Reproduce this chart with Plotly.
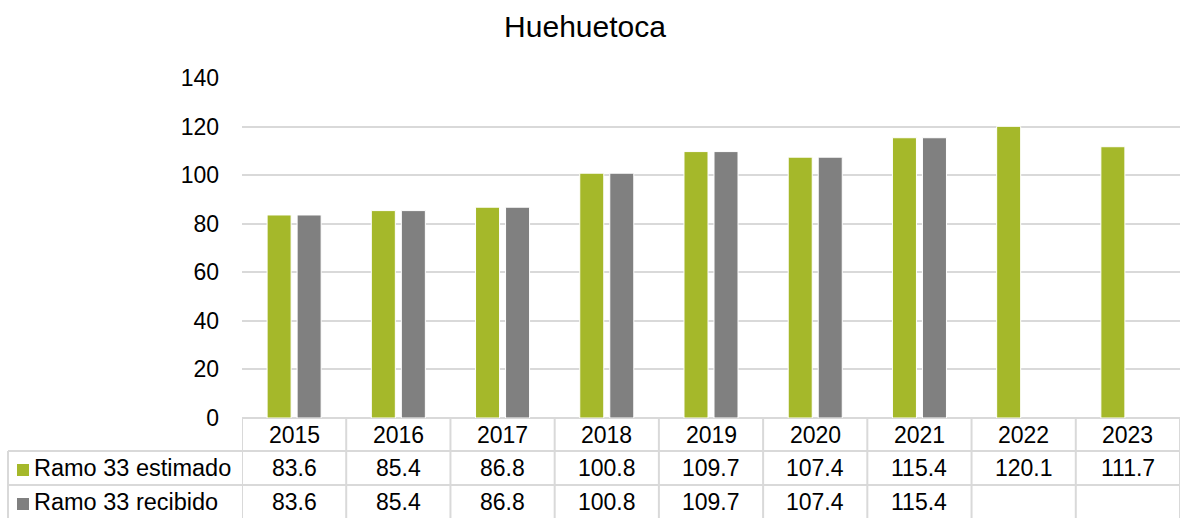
import plotly.graph_objects as go

years = ["2015", "2016", "2017", "2018", "2019", "2020", "2021", "2022", "2023"]
estimado = [83.6, 85.4, 86.8, 100.8, 109.7, 107.4, 115.4, 120.1, 111.7]
recibido = [83.6, 85.4, 86.8, 100.8, 109.7, 107.4, 115.4, None, None]
series_names = ["Ramo 33 estimado", "Ramo 33 recibido"]
colors = ["#A5B82A", "#808080"]
title = "Huehuetoca"

W, H = 1180, 518
L, R, T, B = 242, 0, 78, 100
PW, PH = W - L - R, H - T - B
FONT = "Liberation Sans, Arial, sans-serif"
GRID = "#D9D9D9"


def px_x(px):
    return (px - L) / PW


def px_y(py):
    return (H - B - py) / PH


fig = go.Figure()
for name, vals, col in zip(series_names, [estimado, recibido], colors):
    fig.add_trace(go.Bar(
        x=years, y=vals, name=name,
        marker=dict(color=col, line=dict(color="white", width=1)),
        showlegend=False, hoverinfo="x+y",
    ))

shapes = []
annotations = []
line = dict(color=GRID, width=2)
shapes.append(dict(type="line", xref="paper", yref="paper", x0=0, x1=1,
                   y0=0, y1=0, line=line, layer="below"))
for py in [451, 485]:
    shapes.append(dict(type="line", xref="paper", yref="paper", x0=px_x(8), x1=1,
                       y0=px_y(py), y1=px_y(py), line=line))
for k in range(len(years) + 1):
    shapes.append(dict(type="line", xref="x", yref="paper", x0=k - 0.5, x1=k - 0.5,
                       y0=0, y1=px_y(H), line=line))
shapes.append(dict(type="line", xref="paper", yref="paper", x0=px_x(8), x1=px_x(8),
                   y0=px_y(451), y1=px_y(H), line=line))

row_centers = [435, 468, 502]
txtfont = dict(family=FONT, size=23, color="#000000")
lblfont = dict(family=FONT, size=23.5, color="#000000")
for i, yr in enumerate(years):
    annotations.append(dict(x=i, xref="x", y=px_y(row_centers[0]), yref="paper",
                            text=yr, showarrow=False, font=txtfont,
                            xanchor="center", yanchor="middle"))
    for r, vals in enumerate([estimado, recibido]):
        v = vals[i]
        if v is not None:
            annotations.append(dict(x=i, xref="x", y=px_y(row_centers[r + 1]), yref="paper",
                                    text=f"{v:.1f}", showarrow=False, font=txtfont,
                                    xanchor="center", yanchor="middle"))

for r, (name, col) in enumerate(zip(series_names, colors)):
    yc = row_centers[r + 1]
    shapes.append(dict(type="rect", xref="paper", yref="paper",
                       x0=px_x(17), x1=px_x(29), y0=px_y(yc + 8), y1=px_y(yc - 4),
                       fillcolor=col, line=dict(width=0)))
    annotations.append(dict(x=px_x(32), xref="paper", y=px_y(yc), yref="paper",
                            text=name, showarrow=False, font=lblfont,
                            xanchor="left", yanchor="middle"))

fig.update_layout(
    width=W, height=H,
    margin=dict(l=L, r=R, t=T, b=B, pad=0),
    paper_bgcolor="white", plot_bgcolor="white",
    title=dict(text=title, x=585 / W, xanchor="center", y=1 - 26 / H, yanchor="middle",
               font=dict(family=FONT, size=30, color="#000000")),
    barmode="group", bargap=0.424, bargroupgap=0.2,
    xaxis=dict(type="category", showticklabels=False, showgrid=False, zeroline=False,
               showline=False, ticks="", range=[-0.5, len(years) - 0.5]),
    yaxis=dict(range=[0, 140], dtick=20, showgrid=True, gridcolor=GRID, gridwidth=2,
               zeroline=False, showline=False, ticks="",
               tickfont=dict(family=FONT, size=23, color="#000000"),
               ticklabelstandoff=22),
    shapes=shapes, annotations=annotations,
    font=dict(family=FONT),
)

fig.write_html("out.html", config={"displayModeBar": False},
               post_script="document.body.style.margin='0';document.body.style.overflow='hidden';")
